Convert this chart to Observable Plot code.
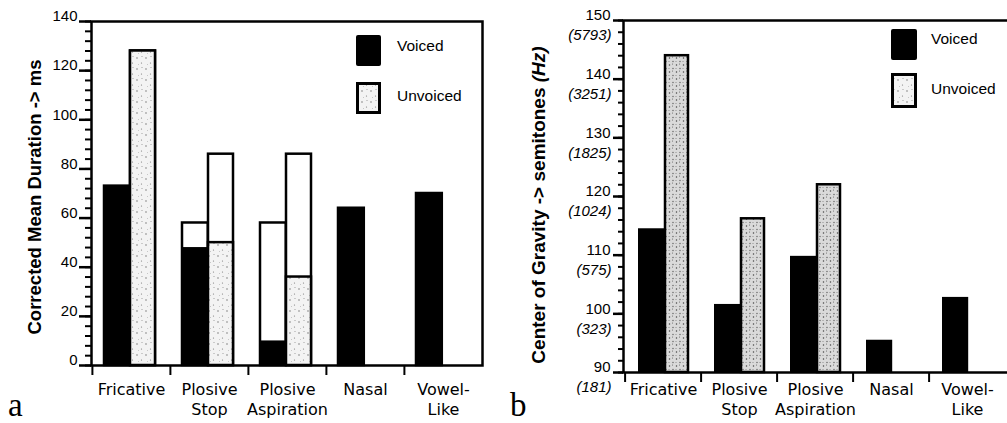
<!DOCTYPE html>
<html><head><meta charset="utf-8">
<script src="https://cdn.jsdelivr.net/npm/d3@7"></script>
<script src="https://cdn.jsdelivr.net/npm/@observablehq/plot@0.6"></script>
<style>
html,body{margin:0;padding:0;background:#fff;}
#wrap{position:relative;width:1007px;height:423px;overflow:hidden;background:#fff;font-family:"Liberation Sans",Arial,sans-serif;color:#000;}
.panel{position:absolute;top:0;}
</style></head><body><div id="wrap"></div>
<script>
// ---------- data ----------
const categories = ["Fricative", "Plosive\nStop", "Plosive\nAspiration", "Nasal", "Vowel-\nLike"];
const seriesNames = ["Voiced", "Unvoiced"];

// Panel a: corrected mean duration (ms)
const durVoicedTotal   = [73, 58, 58, 64, 70];
const durVoicedPart    = [73, 48, 10, 64, 70];
const durUnvoicedTotal = [128, 86, 86, null, null];
const durUnvoicedPart  = [128, 50, 36, null, null];
const durTicks = [0, 20, 40, 60, 80, 100, 120, 140];
const durMinorTicks = d3.range(0, 141, 4);
const durLabel = "Corrected Mean Duration -> ms";

// Panel b: center of gravity (semitones, Hz)
const cogVoiced   = [114.5, 101.6, 109.8, 95.5, 102.8];
const cogUnvoiced = [144, 116.2, 122, null, null];
const cogTicks    = [90, 100, 110, 120, 130, 140, 150];
const cogHzLabels = ["(181)", "(323)", "(575)", "(1024)", "(1825)", "(3251)", "(5793)"];
const cogMinorTicks = d3.range(90, 151, 2);
const cogLabel = "Center of Gravity -> semitones";
const cogLabelUnit = "(Hz)";
const panelTags = ["a", "b"];

// ---------- tables ----------
const rowsA = categories.map((cat, i) => ({cat, base: 0, vt: durVoicedTotal[i], vp: durVoicedPart[i], ut: durUnvoicedTotal[i], up: durUnvoicedPart[i]}));
const uA = rowsA.filter(d => d.ut != null);
const rowsB = categories.map((cat, i) => ({cat, base: 90, v: cogVoiced[i], u: cogUnvoiced[i]}));
const uB = rowsB.filter(d => d.u != null);
const hzMap = new Map(cogTicks.map((t, i) => [t, cogHzLabels[i]]));

const wrap = document.getElementById("wrap");
const ff = "Liberation Sans, Arial, sans-serif";

// tick helpers (rules hung outside the frame)
const yTicks = (vals, len, pw, sw) => Plot.ruleY(vals, {y: d => d, insetRight: pw - len, dx: -len, stroke: "black", strokeWidth: sw});
const xTicks = (cats, len, ph, bw) => Plot.ruleX(cats, {x: d => d, insetTop: ph - len, dy: len, dx: -bw / 2, stroke: "black", strokeWidth: 2});

// ---------- panel a ----------
const WA = 500, HA = 423, mlA = 91, mrA = 18, mtA = 21, mbA = 58;
const pwA = WA - mlA - mrA, phA = HA - mtA - mbA;
const bwA = pwA / categories.length;
const plotA = Plot.plot({
  width: WA, height: HA, marginLeft: mlA, marginRight: mrA, marginTop: mtA, marginBottom: mbA,
  x: {type: "band", domain: categories, padding: 0, label: null},
  y: {domain: [0, 140], label: null},
  marks: [
    Plot.barY(rowsA, {x: "cat", y1: "base", y2: "vt", fill: "white", stroke: "black", strokeWidth: 2.5, insetLeft: 12, insetRight: bwA - 38}),
    Plot.barY(rowsA, {x: "cat", y1: "base", y2: "vp", fill: "black", insetLeft: 12, insetRight: bwA - 38}),
    Plot.barY(uA, {x: "cat", y1: "base", y2: "ut", fill: "white", stroke: "black", strokeWidth: 2.5, insetLeft: 38, insetRight: 15}),
    Plot.barY(uA, {x: "cat", y1: "base", y2: "up", fill: "url(#stipA)", stroke: "black", strokeWidth: 2.5, insetLeft: 38, insetRight: 15}),
    Plot.frame({stroke: "black", strokeWidth: 2.5}),
    yTicks(durMinorTicks, 6, pwA, 2),
    yTicks(durTicks, 12, pwA, 2.5),
    xTicks(categories, 10, phA, bwA),
    Plot.axisY({ticks: durTicks, tickSize: 0, tickPadding: 14, dy: -5, fontSize: 15, fontFamily: ff, fill: "black", label: null}),
    Plot.axisX({tickSize: 0, tickPadding: 15, fontSize: 16, fontFamily: "DejaVu Sans", fill: "black", lineHeight: 1.25, label: null})
  ]
});
d3.select(plotA).insert("defs", ":first-child").html(
  `<pattern id="stipA" width="9" height="11" patternUnits="userSpaceOnUse"><rect width="9" height="11" fill="#f3f3f3"/><circle cx="2" cy="3" r="0.7" fill="#666"/><circle cx="6.5" cy="8" r="0.6" fill="#777"/><circle cx="7" cy="1.5" r="0.5" fill="#888"/><circle cx="3.5" cy="9.5" r="0.45" fill="#999"/></pattern>`);
plotA.classList.add("panel");
plotA.style.left = "0px";
wrap.appendChild(plotA);

// ---------- panel b ----------
const WB = 507, HB = 423, mlB = 123, mrB = 0, mtB = 20, mbB = 51;
const pwB = WB - mlB - mrB, phB = HB - mtB - mbB;
const bwB = pwB / categories.length;
const plotB = Plot.plot({
  width: WB, height: HB, marginLeft: mlB, marginRight: mrB, marginTop: mtB, marginBottom: mbB,
  x: {type: "band", domain: categories, padding: 0, label: null},
  y: {domain: [90, 150], label: null},
  marks: [
    Plot.barY(rowsB, {x: "cat", y1: "base", y2: "v", fill: "black", insetLeft: 13, insetRight: bwB - 40}),
    Plot.barY(uB, {x: "cat", y1: "base", y2: "u", fill: "url(#stipB)", stroke: "black", strokeWidth: 2.5, insetLeft: 40, insetRight: 13}),
    Plot.frame({stroke: "black", strokeWidth: 2.5, insetRight: -4}),
    yTicks(cogMinorTicks, 5, pwB, 2),
    yTicks(cogTicks, 10, pwB, 2.5),
    xTicks(categories, 10, phB, bwB),
    Plot.axisY({ticks: cogTicks, tickSize: 0, tickPadding: 13, dy: -5, fontSize: 15, fontFamily: ff, fill: "black", label: null}),
    Plot.axisY({ticks: cogTicks, tickSize: 0, tickPadding: 12, dy: 15, fontSize: 15, fontFamily: ff, fontStyle: "italic", fill: "black", tickFormat: d => hzMap.get(d), label: null}),
    Plot.axisX({tickSize: 0, tickPadding: 8, fontSize: 16, fontFamily: "DejaVu Sans", fill: "black", lineHeight: 1.25, label: null})
  ]
});
d3.select(plotB).insert("defs", ":first-child").html(
  `<pattern id="stipB" width="7" height="7" patternUnits="userSpaceOnUse"><rect width="7" height="7" fill="#dadada"/><circle cx="1.5" cy="2" r="0.75" fill="#444"/><circle cx="5" cy="5.5" r="0.65" fill="#555"/><circle cx="4.5" cy="1" r="0.55" fill="#666"/><circle cx="1" cy="5.5" r="0.5" fill="#777"/></pattern>`);
plotB.classList.add("panel");
plotB.style.left = "500px";
wrap.appendChild(plotB);

// ---------- axis titles, legends, panel tags (SVG text) ----------
function yTitle(svg, cx, cy, main, unit, size) {
  const t = d3.select(svg).append("text")
    .attr("transform", `translate(${cx},${cy}) rotate(-90)`)
    .attr("text-anchor", "middle").attr("dy", "0.35em")
    .attr("font-family", ff).attr("font-weight", "bold").attr("font-size", size).attr("fill", "black");
  t.append("tspan").text(main);
  if (unit) t.append("tspan").attr("font-style", "italic").text(" " + unit);
}
function legend(svg, x, y1, y2, w, h1, h2, tx, ty1, ty2) {
  const g = d3.select(svg).append("g").attr("text-anchor", "start");
  g.append("rect").attr("x", x).attr("y", y1).attr("width", w).attr("height", h1).attr("rx", 2).attr("fill", "black");
  g.append("rect").attr("x", x + 1.5).attr("y", y2 + 1.5).attr("width", w - 3).attr("height", h2 - 3)
    .attr("fill", "url(#stipA)").attr("stroke", "black").attr("stroke-width", 3);
  g.append("text").attr("x", tx).attr("y", ty1).attr("dy", "0.35em").attr("text-anchor", "start").attr("font-family", ff).attr("font-size", 15.5).attr("fill", "black").text(seriesNames[0]);
  g.append("text").attr("x", tx).attr("y", ty2).attr("dy", "0.35em").attr("text-anchor", "start").attr("font-family", ff).attr("font-size", 15.5).attr("fill", "black").text(seriesNames[1]);
}
function tag(svg, x, y, s) {
  d3.select(svg).append("text").attr("x", x).attr("y", y).attr("text-anchor", "start")
    .attr("font-family", "Liberation Serif, DejaVu Serif, serif").attr("font-size", 33).attr("fill", "black").text(s);
}
yTitle(plotA, 35, 197, durLabel, null, 18.5);
yTitle(plotB, 38, 205, cogLabel, cogLabelUnit, 19);
legend(plotA, 356, 35, 82, 25, 31, 32, 397, 46, 96);
legend(plotB, 391, 29, 73, 26, 31, 35, 431, 39, 89);
tag(plotA, 8, 416, panelTags[0]);
tag(plotB, 10, 416, panelTags[1]);
</script>
</body></html>
